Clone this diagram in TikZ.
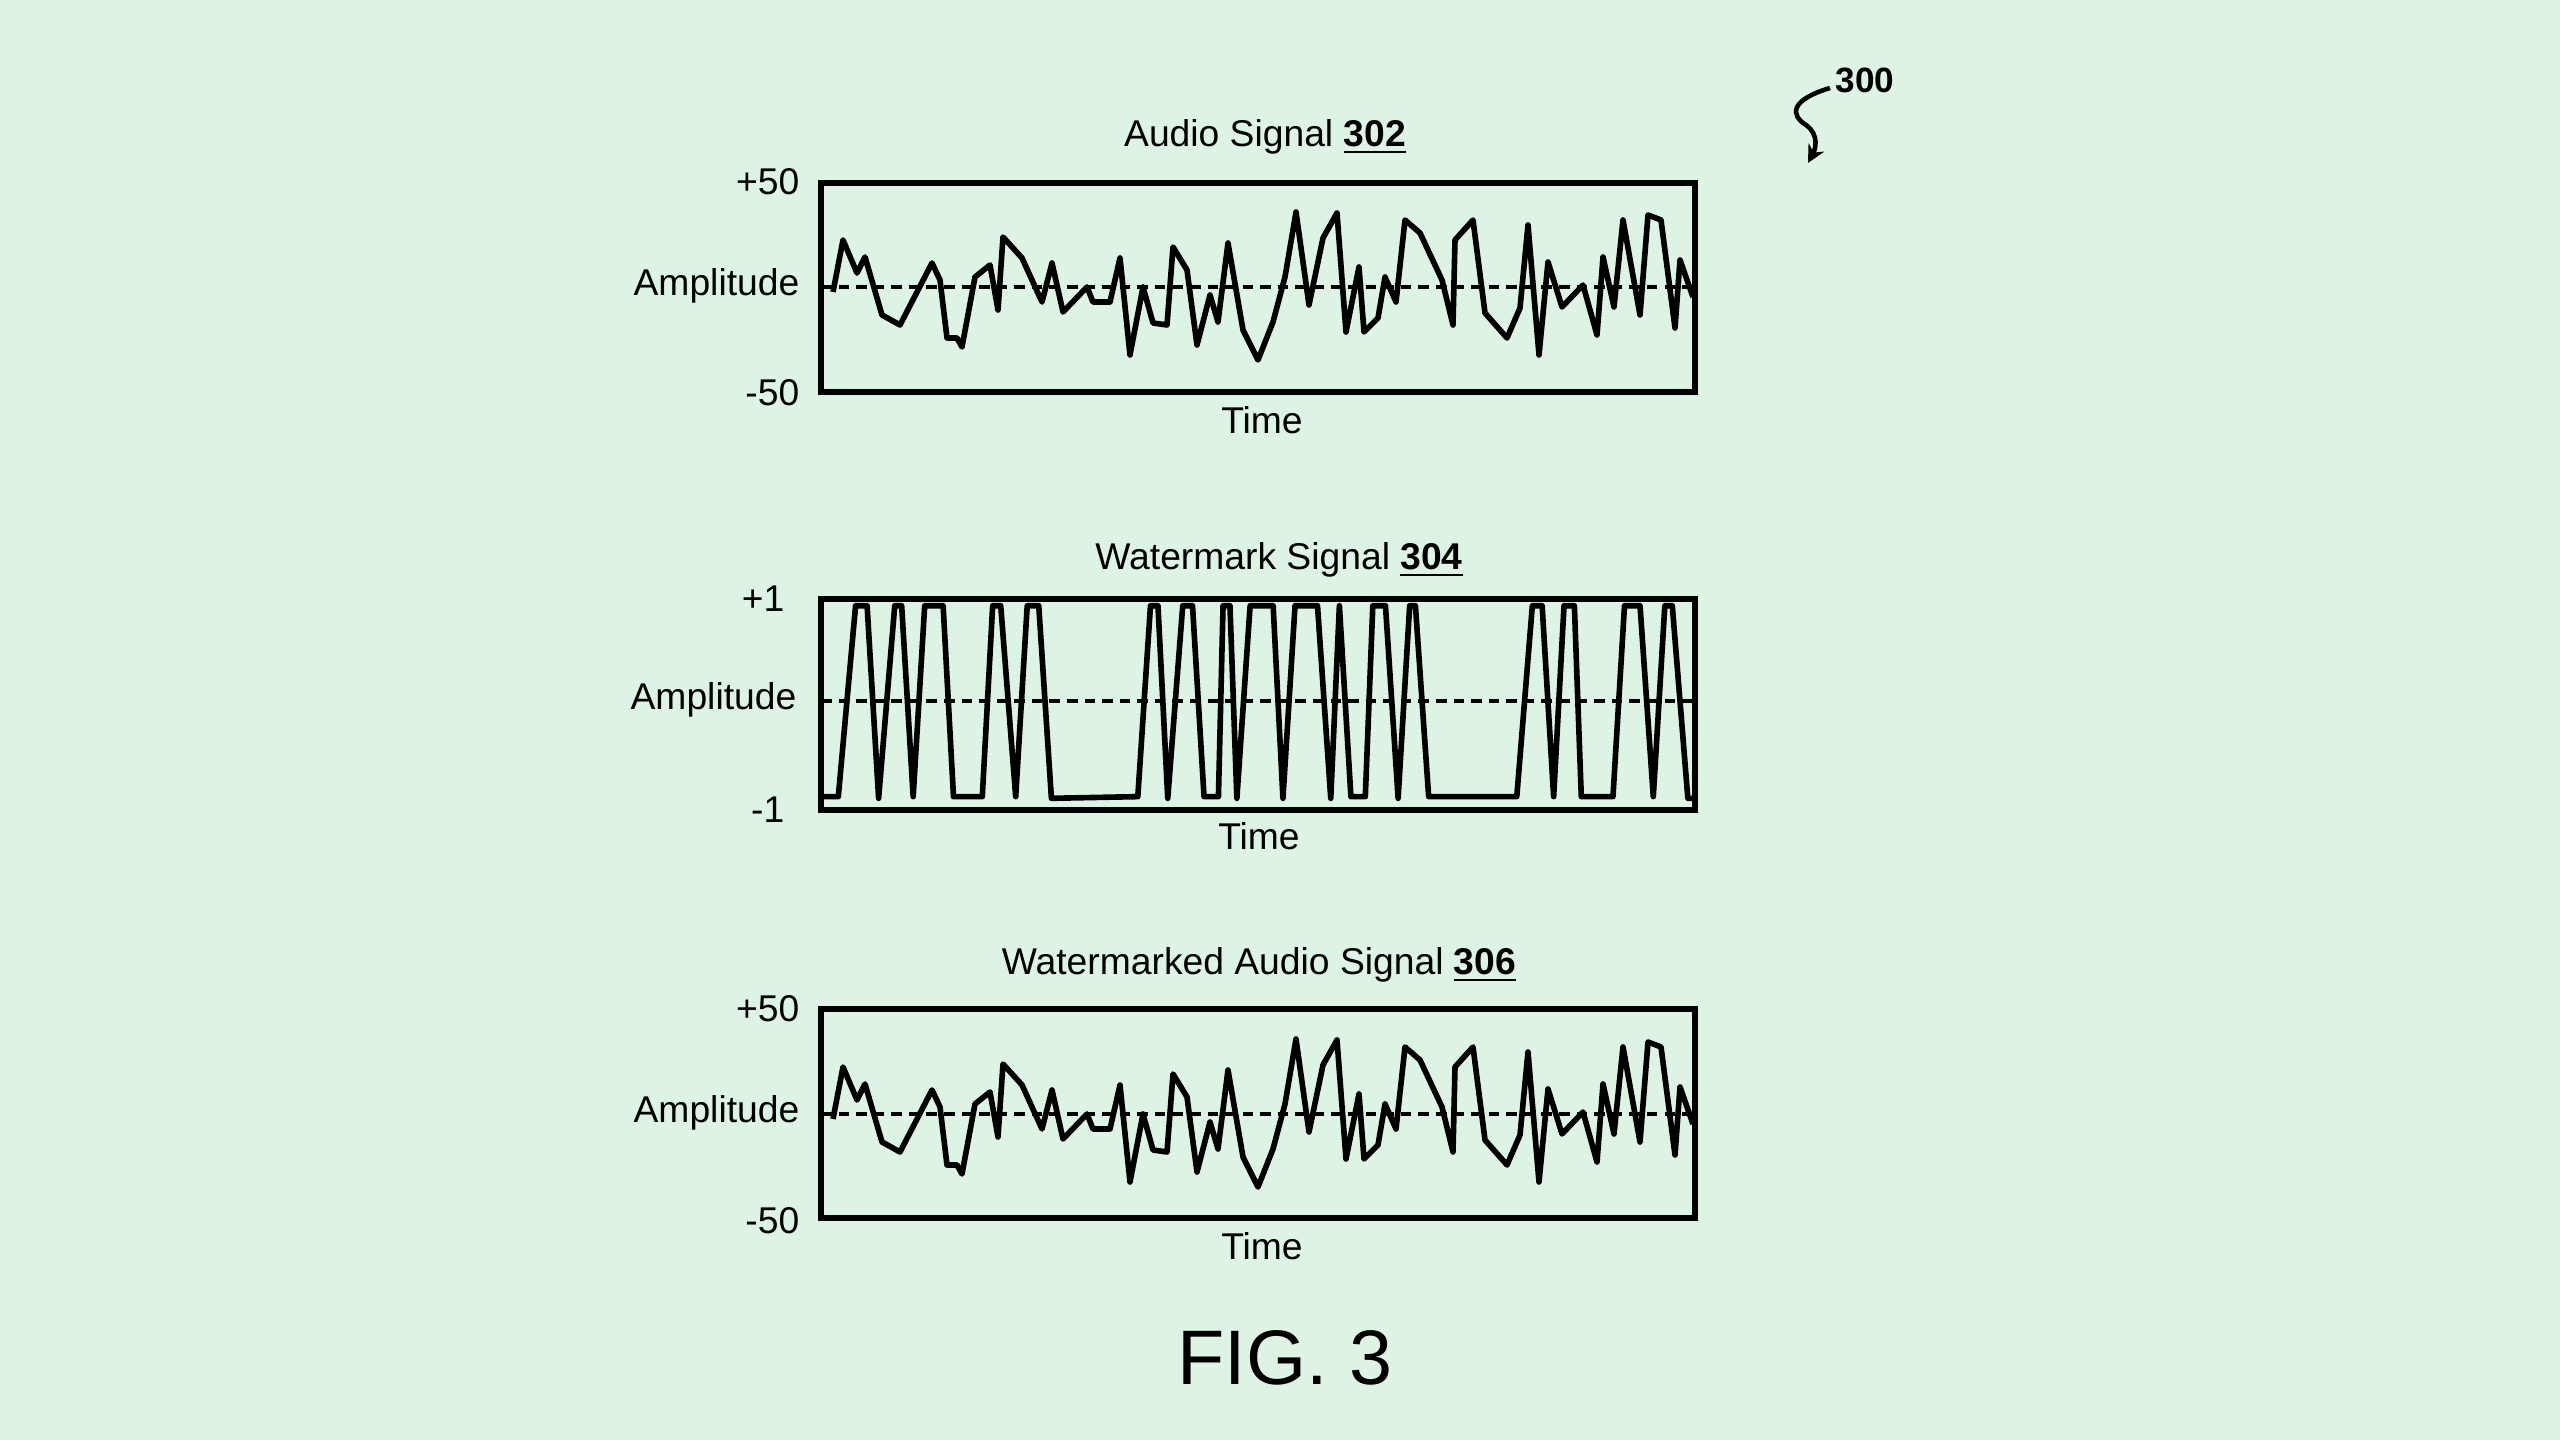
\documentclass[tikz,border=0pt]{standalone}
\usepackage{fontspec}
\setmainfont{Liberation Sans}
\usetikzlibrary{arrows.meta}
\definecolor{bg}{HTML}{DDF4E5}
\begin{document}
\begin{tikzpicture}[x=0.1mm,y=-0.1mm,
  frame/.style={line width=1.6pt},
  sig/.style={line width=1.6pt,line join=round},
  mid/.style={line width=1pt,dash pattern=on 3pt off 2pt},
  lbl/.style={font=\fontsize{10.6}{12}\selectfont,inner sep=0pt},
  ttl/.style={font=\fontsize{10.6}{12}\selectfont,inner sep=0pt}]
\fill[bg] (0,0) rectangle (2560,1440);
\useasboundingbox (0,0) rectangle (2560,1440);
% ---- Audio signal
\node[ttl] (t1) at (1265,137) {Audio Signal \underline{\textbf{302}}};
\draw[frame] (821,183) rectangle (1695,392);
\coordinate (m1a) at (821,287); \coordinate (m1b) at (1695,287);
\draw[mid] (m1a) -- (m1b);
\node[lbl,anchor=east] (p1) at (800,182) {+50};
\node[lbl,anchor=east] (a1) at (800,286) {Amplitude};
\node[lbl,anchor=east] (n1) at (800,393) {-50};
\node[lbl] (x1) at (1262,420) {Time};
\def\audio{(833,292)--(843,240)--(857,273)--(865,257)--(882,315)--(900,325)--(932,263)--(940,280)--(947,338)--(957,338)--(962,347)--(975,277)--(990,265)--(998,310)--(1003,237)--(1022,258)--(1042,302)--(1052,263)--(1063,312)--(1087,287)--(1093,302)--(1110,302)--(1120,258)--(1130,355)--(1143,287)--(1153,323)--(1167,325)--(1173,247)--(1187,270)--(1197,345)--(1210,295)--(1218,322)--(1228,243)--(1243,330)--(1258,360)--(1273,322)--(1285,277)--(1296,212)--(1309,305)--(1323,238)--(1337,213)--(1346,332)--(1359,267)--(1364,332)--(1378,318)--(1385,277)--(1396,302)--(1405,220)--(1420,233)--(1442,280)--(1453,325)--(1455,240)--(1473,220)--(1485,313)--(1507,338)--(1520,308)--(1528,225)--(1539,355)--(1548,262)--(1562,307)--(1583,285)--(1597,335)--(1603,257)--(1614,307)--(1623,220)--(1640,315)--(1648,215)--(1661,220)--(1675,328)--(1680,260)--(1693,297)}
\draw[sig] \audio;
% ---- Watermark signal
\node[ttl] (t2) at (1279,560) {Watermark Signal \underline{\textbf{304}}};
\draw[frame] (821,599) rectangle (1695,810);
\coordinate (m2a) at (821,701); \coordinate (m2b) at (1695,701);
\draw[mid] (m2a) -- (m2b);
\node[lbl,anchor=east] (p2) at (785,599) {+1};
\node[lbl,anchor=east] (a2) at (797,700) {Amplitude};
\node[lbl,anchor=east] (n2) at (785,810) {-1};
\node[lbl] (x2) at (1259,836) {Time};
\begin{scope}[shift={(809.5,589)},x=0.0576mm,y=-0.0335mm]
\draw[sig] (20,620)--(50,620)--(80,50)--(100,50)--(120,625)--(148,50)--(160,50)--(180,620)--(200,50)--(232,50)--(250,620)--(300,620)--(318,50)--(332,50)--(358,620)--(378,50)--(398,50)--(420,625)--(570,620)--(592,50)--(605,50)--(622,625)--(648,50)--(665,50)--(685,620)--(710,620)--(718,50)--(730,50)--(742,625)--(765,50)--(805,50)--(822,625)--(843,50)--(882,50)--(905,625)--(920,50)--(940,620)--(965,620)--(978,50)--(1000,50)--(1022,625)--(1042,50)--(1052,50)--(1075,620)--(1228,620)--(1255,50)--(1272,50)--(1292,620)--(1310,50)--(1328,50)--(1340,620)--(1395,620)--(1415,50)--(1442,50)--(1465,620)--(1485,50)--(1498,50)--(1525,625)--(1535,625);
\end{scope}
% ---- Watermarked audio
\node[ttl] (t3) at (1259,965) {Watermarked Audio Signal \underline{\textbf{306}}};
\draw[frame] (821,1009) rectangle (1695,1218);
\coordinate (m3a) at (821,1114); \coordinate (m3b) at (1695,1114);
\draw[mid] (m3a) -- (m3b);
\node[lbl,anchor=east] (p3) at (800,1009) {+50};
\node[lbl,anchor=east] (a3) at (800,1113) {Amplitude};
\node[lbl,anchor=east] (n3) at (800,1221) {-50};
\node[lbl] (x3) at (1262,1246) {Time};
\begin{scope}[yshift=-82.7mm]
\draw[sig] \audio;
\end{scope}
% ---- figure label
\node[font=\fontsize{22}{26}\selectfont,inner sep=0pt] (fig) at (1285,1358) {FIG. 3};
\node[font=\fontsize{10}{12}\selectfont\bfseries,inner sep=0pt] (ref) at (1865,80) {300};
\coordinate (s0) at (1830,88);
\coordinate (s1) at (1808,163);
\draw[line width=1.3pt,-{Stealth[length=5pt,width=5pt]}] (s0) .. controls (1790,100) and (1790,115) .. (1806,125) .. controls (1820,135) and (1815,150) .. (s1);
\end{tikzpicture}
\end{document}
